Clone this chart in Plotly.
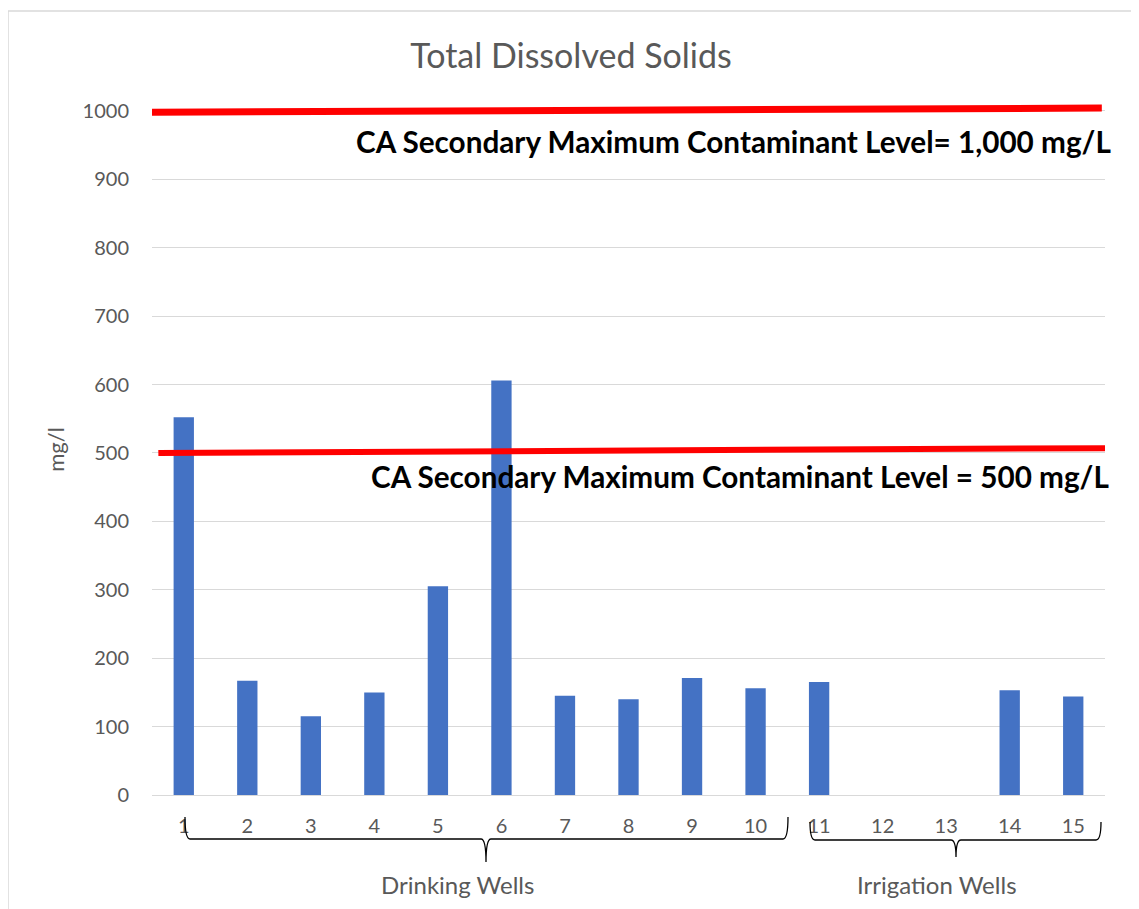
import plotly.graph_objects as go

wells = list(range(1, 16))
tick_labels = [str(w) for w in wells]
tds_values = [552, 167, 115, 150, 305, 606, 145, 140, 171, 156, 165, 0, 0, 153, 144]
limit_upper = [998, 1004]
limit_lower = [500, 507]
limit_texts = ["CA Secondary Maximum Contaminant Level= 1,000 mg/L",
               "CA Secondary Maximum Contaminant Level = 500 mg/L"]
group_names = ["Drinking Wells", "Irrigation Wells"]

OFF = 8  # default page body margin
W, H = 1139 - OFF, 909 - OFF
L, R, T, B = 152, 1105, 104, 795  # plot area in screen pixels

def px(x):
    return (x - L) / (R - L)

def py(y):
    return (B - y) / (B - T)

FONT = "Lato, Carlito, Calibri, sans-serif"
GRAY = "#595959"

fig = go.Figure()
fig.add_trace(go.Bar(x=wells, y=tds_values, marker_color="#4472C4",
                     marker_line_width=0, width=0.32, showlegend=False))

shapes = []
shapes.append(dict(type="rect", xref="paper", yref="paper",
                   x0=px(8), x1=px(1135), y0=py(930), y1=py(11),
                   line=dict(color="#d9d9d9", width=1.5), layer="below"))
shapes.append(dict(type="line", xref="x", yref="y", x0=0.5, x1=15.45,
                   y0=limit_upper[0], y1=limit_upper[1],
                   line=dict(color="#ff0000", width=7)))
shapes.append(dict(type="line", xref="x", yref="y", x0=0.6, x1=15.5,
                   y0=limit_lower[0], y1=limit_lower[1],
                   line=dict(color="#ff0000", width=6)))

def brace(xl, xr, xm, ytop, ymid, ytip):
    r = 5
    p = (f"M {px(xl)} {py(ytop)} "
         f"Q {px(xl)} {py(ymid)} {px(xl + r)} {py(ymid)} "
         f"L {px(xm - r)} {py(ymid)} "
         f"Q {px(xm)} {py(ymid)} {px(xm)} {py(ytip)} "
         f"Q {px(xm)} {py(ymid)} {px(xm + r)} {py(ymid)} "
         f"L {px(xr - r)} {py(ymid)} "
         f"Q {px(xr)} {py(ymid)} {px(xr)} {py(ytop)}")
    return dict(type="path", xref="paper", yref="paper", path=p,
                line=dict(color="#000000", width=1.3))

shapes.append(brace(185, 788, 486, 817, 839, 862))
shapes.append(brace(810, 1101, 956, 822, 840, 857))

annotations = [
    dict(text=limit_texts[0], xref="paper", yref="paper", x=px(1113), y=py(141),
         xanchor="right", yanchor="middle", showarrow=False,
         font=dict(family=FONT, size=29.7, color="#000000", weight="bold")),
    dict(text=limit_texts[1], xref="paper", yref="paper", x=px(1111), y=py(476),
         xanchor="right", yanchor="middle", showarrow=False,
         font=dict(family=FONT, size=29.7, color="#000000", weight="bold")),
    dict(text=group_names[0], xref="paper", yref="paper", x=px(457), y=py(884),
         xanchor="center", yanchor="middle", showarrow=False,
         font=dict(family=FONT, size=24, color=GRAY)),
    dict(text=group_names[1], xref="paper", yref="paper", x=px(937), y=py(884),
         xanchor="center", yanchor="middle", showarrow=False,
         font=dict(family=FONT, size=24, color=GRAY)),
]

fig.update_layout(
    width=W, height=H,
    margin=dict(l=L - OFF, r=(W + OFF) - R, t=T - OFF, b=(H + OFF) - B, pad=0),
    paper_bgcolor="white", plot_bgcolor="white",
    title=dict(text="Total Dissolved Solids", xref="container", yref="container",
               x=(571 - OFF) / W, xanchor="center",
               y=1 - (56 - OFF) / H, yanchor="middle",
               font=dict(family=FONT, size=34, color=GRAY)),
    font=dict(family=FONT, color=GRAY),
    shapes=shapes, annotations=annotations,
)
fig.update_xaxes(range=[0.5, 15.5], tickmode="array", tickvals=wells,
                 ticktext=tick_labels, showgrid=False, zeroline=False,
                 showline=False, ticks="", ticklabelstandoff=17,
                 tickfont=dict(family=FONT, size=20, color=GRAY))
fig.update_yaxes(range=[0, 1010], tickmode="linear", tick0=0, dtick=100,
                 showgrid=True, gridcolor="#d9d9d9", gridwidth=1.3,
                 zeroline=True, zerolinecolor="#d9d9d9", zerolinewidth=1.3,
                 ticks="", ticklabelstandoff=22,
                 tickfont=dict(family=FONT, size=20, color=GRAY),
                 title=dict(text="mg/l", standoff=11,
                            font=dict(family=FONT, size=22, color=GRAY)))

fig.write_html("out.html")
